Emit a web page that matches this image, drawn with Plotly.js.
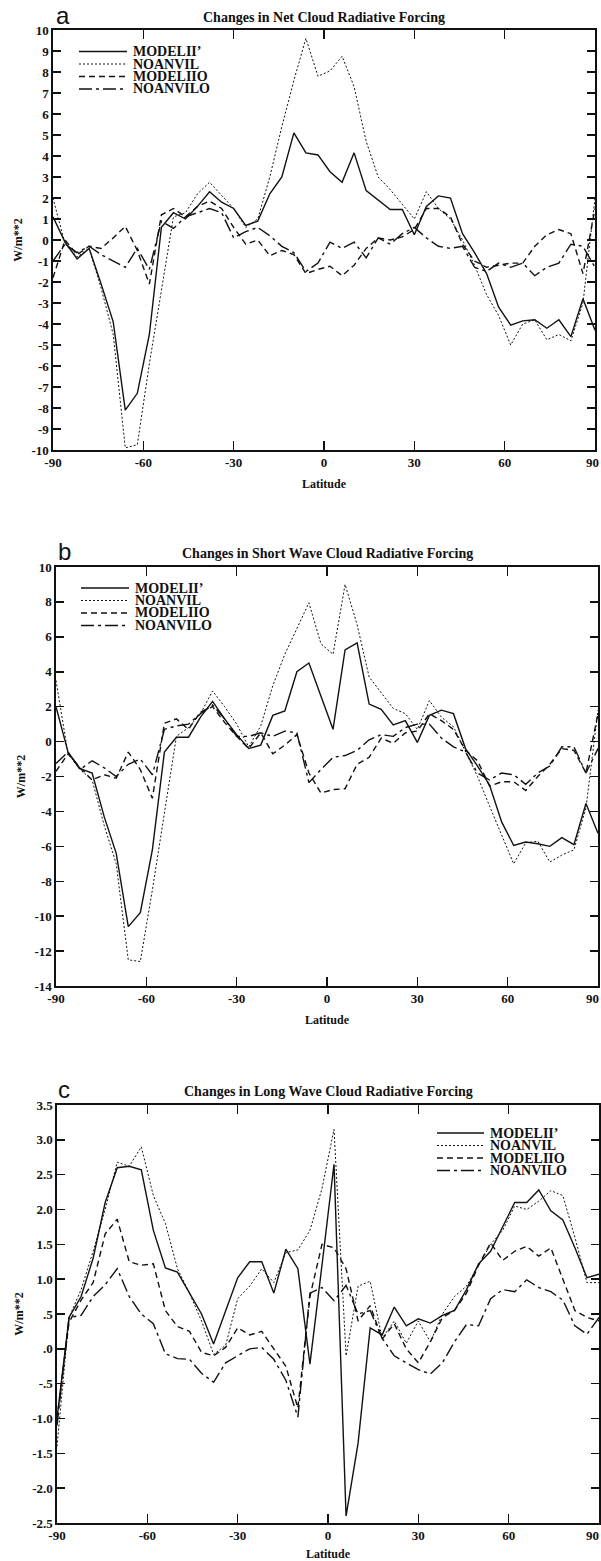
<!DOCTYPE html>
<html>
<head>
<meta charset="utf-8">
<script src="https://cdn.plot.ly/plotly-3.0.1.min.js"></script>
<style>html,body{margin:0;padding:0;background:#fff;}#chart{width:601px;height:1561px;}</style>
</head>
<body>
<div id="chart"></div>
<script>
// ---------------- DATA ----------------
const latitude = [-90,-86,-82,-78,-74,-70,-66,-62,-58,-54,-50,-46,-42,-38,-34,-30,-26,-22,-18,-14,-10,-6,-2,2,6,10,14,18,22,26,30,34,38,42,46,50,54,58,62,66,70,74,78,82,86,90];
const seriesNames = ["MODELII\u2019", "NOANVIL", "MODELIIO", "NOANVILO"];
const panelTitles = ["Changes in Net Cloud Radiative Forcing", "Changes in Short Wave Cloud Radiative Forcing", "Changes in Long Wave Cloud Radiative Forcing"];
const panelLetters = ["a", "b", "c"];
const xTickVals = [-90,-60,-30,0,30,60,90];
const xTickText = ["-90","-60","-30","0","30","60","90"];
const netTickVals = [10,9,8,7,6,5,4,3,2,1,0,-1,-2,-3,-4,-5,-6,-7,-8,-9,-10];
const netTickText = ["10","9","8","7","6","5","4","3","2","1","0","-1","-2","-3","-4","-5","-6","-7","-8","-9","-10"];
const swTickVals = [10,8,6,4,2,0,-2,-4,-6,-8,-10,-12,-14];
const swTickText = ["10","8","6","4","2","0","-2","-4","-6","-8","-10","-12","-14"];
const lwTickVals = [3.5,3.0,2.5,2.0,1.5,1.0,0.5,0,-0.5,-1.0,-1.5,-2.0,-2.5];
const lwTickText = ["3.5","3.0","2.5","2.0","1.5","1.0",".5",".0","-.5","-1.0","-1.5","-2.0","-2.5"];

// Panel a: net cloud radiative forcing change (W/m**2)
const netModelII  = [1.1,-0.1,-0.9,-0.4,-2.1,-3.9,-8.1,-7.3,-4.5,0.6,1.3,1.0,1.6,2.3,1.8,1.5,0.7,0.9,2.2,3.0,5.1,4.15,4.05,3.25,2.75,4.15,2.35,1.9,1.45,1.45,0.25,1.6,2.1,2.0,0.3,-0.6,-1.6,-3.2,-4.05,-3.85,-3.8,-4.2,-3.8,-4.6,-2.8,-4.3];
const netNoanvil  = [2.0,-0.2,-0.8,-0.4,-2.3,-4.5,-9.9,-9.75,-5.9,-2.5,1.1,1.3,2.2,2.75,2.1,1.5,0.6,1.0,3.0,5.4,7.6,9.6,7.8,8.05,8.75,7.3,4.7,3.0,2.4,1.7,1.0,2.3,1.5,1.0,0.0,-1.2,-2.6,-3.6,-5.0,-4.0,-3.8,-4.75,-4.5,-4.8,-3.0,2.0];
const netModelIIO = [-1.8,0.0,-0.7,-0.3,-0.4,0.1,0.65,-0.5,-2.1,1.2,1.5,1.1,1.6,1.85,1.5,0.6,-0.2,0.0,-0.75,-0.5,-0.7,-1.6,-1.4,-1.25,-1.7,-1.2,-0.4,0.1,0.0,0.15,0.5,1.5,1.5,1.1,-0.2,-1.0,-1.3,-1.2,-1.1,-1.1,-0.3,0.25,0.5,0.3,-1.6,1.5];
const netNoanvilO = [-1.0,-0.2,-0.6,-0.3,-0.7,-1.0,-1.3,-0.4,-1.4,0.9,0.55,1.1,1.3,1.5,1.3,0.1,0.4,0.6,0.2,-0.3,-0.6,-1.5,-1.1,-0.1,-0.4,-0.1,-0.85,0.1,-0.2,0.3,0.6,0.1,-0.3,-0.4,-0.3,-1.3,-1.5,-1.1,-1.3,-1.1,-1.7,-1.3,-1.1,-0.2,-0.3,-1.3];

// Panel b: short wave cloud radiative forcing change (W/m**2)
const swModelII  = [2.0,-0.6,-1.55,-1.8,-4.3,-6.4,-10.6,-9.8,-6.2,-0.6,0.25,0.25,1.4,2.3,1.3,0.4,-0.4,-0.2,1.5,1.75,4.0,4.5,2.6,0.7,5.25,5.65,2.15,1.85,0.95,1.2,-0.05,1.5,1.8,1.6,-0.4,-1.4,-2.5,-4.6,-5.95,-5.75,-5.85,-6.0,-5.5,-5.9,-3.55,-5.25];
const swNoanvil  = [3.5,-0.7,-1.6,-2.2,-4.8,-7.0,-12.5,-12.6,-8.5,-4.0,0.3,0.8,1.6,2.9,2.0,1.0,-0.3,0.9,3.2,5.0,6.5,7.95,5.6,5.0,9.0,6.7,3.7,2.8,1.9,1.6,0.7,2.35,1.4,0.85,-0.6,-2.0,-3.7,-5.3,-7.0,-5.8,-5.7,-6.9,-6.5,-6.2,-3.8,1.8];
const swModelIIO = [-1.7,-0.7,-1.5,-2.2,-1.9,-2.1,-0.6,-1.6,-3.25,1.05,1.3,0.7,1.7,2.0,1.1,0.3,-0.4,0.5,-0.7,-0.2,0.4,-1.8,-2.95,-2.75,-2.7,-1.3,-0.9,0.2,-0.1,0.5,0.6,1.6,1.2,0.7,-0.5,-1.1,-2.55,-2.3,-2.3,-2.8,-2.0,-1.3,-0.4,-0.5,-1.8,1.6];
const swNoanvilO = [-1.25,-0.6,-1.6,-1.1,-1.5,-2.0,-1.3,-1.0,-1.9,0.7,0.9,1.0,1.6,2.1,1.3,0.3,0.3,0.5,0.3,0.6,0.5,-2.35,-1.6,-0.9,-0.8,-0.5,0.1,0.4,0.3,0.8,1.0,1.0,0.2,-0.3,-0.6,-1.8,-2.2,-1.8,-1.9,-2.45,-1.8,-1.4,-0.3,-0.3,-1.8,-0.4];

// Panel c: long wave cloud radiative forcing change (W/m**2)
const lwModelII  = [-1.0,0.45,0.75,1.3,2.1,2.6,2.62,2.57,1.7,1.16,1.1,0.8,0.5,0.07,0.55,1.02,1.25,1.25,0.8,1.43,1.15,-0.22,1.2,2.65,-2.4,-1.35,0.3,0.2,0.6,0.33,0.43,0.37,0.48,0.55,0.85,1.22,1.4,1.74,2.1,2.1,2.28,1.98,1.85,1.45,1.02,1.07];
const lwNoanvil  = [-1.4,0.45,0.85,1.4,2.0,2.68,2.62,2.9,2.2,1.8,1.15,0.8,0.4,-0.08,0.05,0.72,0.9,1.15,0.95,1.38,1.42,1.7,2.3,3.15,-0.1,0.9,0.97,0.15,0.4,0.08,0.4,0.1,0.5,0.75,0.9,1.2,1.5,1.7,2.05,2.0,2.12,2.27,2.2,1.6,0.95,0.95];
const lwModelIIO = [-1.0,0.38,0.7,0.95,1.65,1.86,1.25,1.2,1.22,0.55,0.32,0.25,-0.05,-0.1,0.02,0.3,0.2,0.25,0.0,-0.25,-0.85,0.75,1.5,1.45,1.15,0.4,0.62,0.14,0.36,0.0,-0.2,0.1,0.45,0.55,0.8,1.2,1.52,1.27,1.4,1.47,1.33,1.45,1.0,0.55,0.45,0.4];
const lwNoanvilO = [-1.1,0.45,0.48,0.75,0.92,1.15,0.75,0.5,0.36,-0.07,-0.14,-0.15,-0.35,-0.48,-0.2,-0.1,0.0,0.02,-0.15,-0.45,-0.98,0.8,0.88,0.69,0.91,0.5,0.55,0.15,-0.1,-0.2,-0.3,-0.36,-0.2,0.1,0.35,0.33,0.72,0.85,0.82,0.99,0.88,0.82,0.7,0.33,0.21,0.45];

// ---------------- STYLE / LAYOUT ----------------
const W = 601, H = 1561;
const SERIF = "Liberation Serif, Times New Roman, serif";
const SANS = "Liberation Sans, Arial, sans-serif";
const lineStyles = [
  {color: "#111", width: 1.4, dash: "solid"},
  {color: "#111", width: 1.0, dash: "2px,2px"},
  {color: "#111", width: 1.4, dash: "6px,4px"},
  {color: "#111", width: 1.4, dash: "13px,4px,3px,4px"}
];
// pixel boxes of the three plot areas: [left, right, top, bottom]
const boxes = [[53, 595, 30, 450], [56, 598, 567, 986], [57, 599, 1105, 1523]];
const legendPos = [[79, 131, 51.5], [81, 133, 588], [437, 488, 1133]];
const legendStep = 12.5;
const titleY = [17, 553, 1091];
const letterPos = [[54, 16], [56, 551], [56, 1089]];

const panels = [
  {series: [netModelII, netNoanvil, netModelIIO, netNoanvilO], range: [-10, 10], tv: netTickVals, tt: netTickText},
  {series: [swModelII, swNoanvil, swModelIIO, swNoanvilO], range: [-14, 10], tv: swTickVals, tt: swTickText},
  {series: [lwModelII, lwNoanvil, lwModelIIO, lwNoanvilO], range: [-2.5, 3.5], tv: lwTickVals, tt: lwTickText}
];

const px = x => x / W;
const py = y => 1 - y / H;

const traces = [];
const layout = {
  width: W, height: H,
  margin: {l: 0, r: 0, t: 0, b: 0},
  paper_bgcolor: "#fff", plot_bgcolor: "#fff",
  showlegend: false,
  font: {family: SERIF, color: "#111"},
  annotations: [], shapes: []
};

const tickFont = {family: SERIF, size: 13, weight: "bold", color: "#111"};
const labelFont = {family: SERIF, size: 12, weight: "bold", color: "#111"};

panels.forEach((p, i) => {
  const n = i === 0 ? "" : String(i + 1);
  const b = boxes[i];
  p.series.forEach((vals, k) => {
    traces.push({
      type: "scatter", mode: "lines", x: latitude, y: vals, name: seriesNames[k],
      xaxis: "x" + n, yaxis: "y" + n, line: lineStyles[k], hoverinfo: "x+y+name"
    });
  });
  const common = {
    ticks: "inside", ticklen: 9, tickwidth: 1.5, tickcolor: "#111",
    showline: true, linecolor: "#111", linewidth: 1.6, mirror: "ticks",
    showgrid: false, zeroline: false, tickfont: tickFont, fixedrange: true
  };
  // the right-most "90" label would run past the page edge and be dropped: it is drawn right-aligned to the edge instead
  const xt = xTickText.slice();
  xt[xt.length - 1] = "";
  layout["xaxis" + n] = Object.assign({}, common, {
    domain: [px(b[0]), px(b[1])], anchor: "y" + n, range: [-90, 90],
    tickmode: "array", tickvals: xTickVals, ticktext: xt,
    title: {text: "Latitude", font: labelFont, standoff: 10}
  });
  layout["yaxis" + n] = Object.assign({}, common, {
    domain: [py(b[3]), py(b[2])], anchor: "x" + n, range: p.range,
    tickmode: "array", tickvals: p.tv, ticktext: p.tt, ticklen: 8,
    title: {text: "W/m**2", font: labelFont, standoff: 6}
  });
  layout.annotations.push({
    xref: "paper", yref: "paper", x: 1, y: py(b[3] + 3),
    xanchor: "right", yanchor: "top", showarrow: false,
    text: xTickText[xTickText.length - 1], font: tickFont
  });
  layout.annotations.push({
    xref: "paper", yref: "paper", x: px((b[0] + b[1]) / 2), y: py(titleY[i]),
    xanchor: "center", yanchor: "middle", showarrow: false,
    text: panelTitles[i], font: {family: SERIF, size: 14, weight: "bold", color: "#111"}
  });
  layout.annotations.push({
    xref: "paper", yref: "paper", x: px(letterPos[i][0]), y: py(letterPos[i][1]),
    xanchor: "left", yanchor: "middle", showarrow: false,
    text: panelLetters[i], font: {family: SANS, size: 24, color: "#111"}
  });
  const lp = legendPos[i];
  seriesNames.forEach((nm, k) => {
    const yy = lp[2] + k * legendStep;
    layout.shapes.push({
      type: "line", xref: "paper", yref: "paper",
      x0: px(lp[0]), x1: px(lp[1] - 4), y0: py(yy), y1: py(yy),
      line: {color: lineStyles[k].color, width: lineStyles[k].width, dash: lineStyles[k].dash}
    });
    layout.annotations.push({
      xref: "paper", yref: "paper", x: px(lp[1]), y: py(yy),
      xanchor: "left", yanchor: "middle", showarrow: false,
      text: nm, font: {family: SERIF, size: 14, weight: "bold", color: "#111"}
    });
  });
});

Plotly.newPlot("chart", traces, layout, {staticPlot: true, displayModeBar: false});
</script>
</body>
</html>
